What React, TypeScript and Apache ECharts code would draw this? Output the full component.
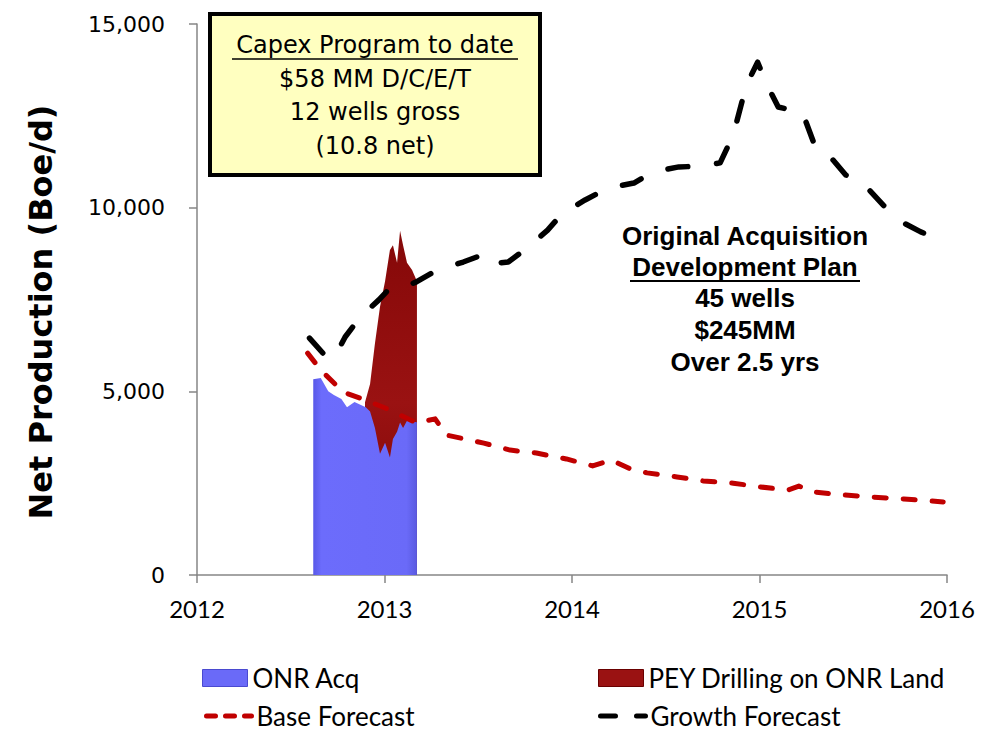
import React, { useEffect, useRef } from "react";
import * as echarts from "echarts";

// ONR Acq (blue area, visible top edge)
const onrYears = [2012.62, 2012.66, 2012.7, 2012.73, 2012.77, 2012.8, 2012.84, 2012.9, 2012.923, 2012.949, 2012.976, 2013.003, 2013.029, 2013.045, 2013.067, 2013.083, 2013.099, 2013.12, 2013.147, 2013.173];
const onrValues = [5330, 5360, 5000, 4900, 4790, 4570, 4710, 4570, 4450, 4000, 3300, 3600, 3200, 3700, 3900, 4150, 4000, 4200, 4180, 4160];

// PEY Drilling on ONR Land (red area, top edge)
const peyYears = [2012.896, 2012.923, 2012.949, 2012.976, 2013.003, 2013.029, 2013.045, 2013.067, 2013.083, 2013.099, 2013.12, 2013.147, 2013.173];
const peyValues = [4700, 5200, 6300, 7300, 8000, 8850, 8980, 8500, 9370, 8980, 8500, 8300, 8000];

// Base Forecast
const baseYears = [2012.59, 2012.66, 2012.78, 2012.9, 2013.03, 2013.17, 2013.27, 2013.33, 2013.53, 2013.67, 2013.81, 2013.97, 2014.11, 2014.21, 2014.31, 2014.4, 2014.56, 2014.7, 2014.86, 2015.0, 2015.15, 2015.21, 2015.29, 2015.45, 2015.61, 2015.77, 2015.98];
const baseValues = [6040, 5580, 4980, 4760, 4490, 4140, 4250, 3810, 3590, 3400, 3320, 3160, 2970, 3130, 2890, 2780, 2670, 2560, 2500, 2400, 2310, 2420, 2260, 2180, 2120, 2070, 1990];

// Growth Forecast
const growthYears = [2012.6, 2012.68, 2012.73, 2012.79, 2012.87, 2012.97, 2013.02, 2013.07, 2013.17, 2013.28, 2013.42, 2013.52, 2013.56, 2013.66, 2013.76, 2013.87, 2013.95, 2014.07, 2014.19, 2014.33, 2014.43, 2014.57, 2014.7, 2014.79, 2014.86, 2014.93, 2014.99, 2015.04, 2015.1, 2015.23, 2015.3, 2015.37, 2015.46, 2015.56, 2015.66, 2015.74, 2015.86, 2015.97];
const growthValues = [6450, 5990, 5900, 6480, 7020, 7490, 7760, 7760, 7980, 8300, 8520, 8710, 8470, 8520, 8900, 9390, 9850, 10210, 10530, 10670, 10970, 11110, 11130, 11220, 11980, 13340, 13960, 13340, 12740, 12580, 11620, 11430, 10890, 10620, 10070, 9660, 9340, 9120];

const boxLines = ["Capex Program to date", "$58 MM D/C/E/T", "12 wells gross", "(10.8 net)"];
const planLines = ["Original Acquisition", "Development Plan", "45 wells", "$245MM", "Over 2.5 yrs"];

const pairs = (xs: number[], ys: number[]) => xs.map((x, i) => [x, ys[i]]);

export default function App() {
  const ref = useRef<HTMLDivElement>(null);
  useEffect(() => {
    if (!ref.current) return;
    const chart = echarts.init(ref.current, null, { renderer: "svg" });
    const axisColor = "#868686";
    const legendText = { fontFamily: "Lato", fontSize: 26, color: "#000" };
    const boxY = [45, 79, 112, 146];
    const planY = [236, 267, 298, 330, 362];
    const centered = { textAlign: "center", textVerticalAlign: "middle", align: "center", verticalAlign: "middle" };
    const graphics: any[] = [
      {
        type: "rect",
        shape: { x: 210, y: 14, width: 330, height: 161 },
        style: { fill: "#ffffc0", stroke: "#000", lineWidth: 4 },
        z: 10,
      },
      ...boxLines.map((t, i) => ({
        type: "text",
        x: 375,
        y: boxY[i],
        z: 11,
        style: { text: t, font: '24px "DejaVu Sans"', fill: "#000", ...centered },
      })),
      { type: "line", z: 11, shape: { x1: 232, y1: 59, x2: 518, y2: 59 }, style: { stroke: "#000", lineWidth: 1.5 } },
      ...planLines.map((t, i) => ({
        type: "text",
        x: 745,
        y: planY[i],
        z: 11,
        style: { text: t, font: 'bold 26px "Liberation Sans"', fill: "#000", ...centered },
      })),
      { type: "line", z: 11, shape: { x1: 630, y1: 281, x2: 860, y2: 281 }, style: { stroke: "#000", lineWidth: 2 } },
      {
        type: "text",
        x: 41,
        y: 312,
        rotation: Math.PI / 2,
        style: { text: "Net Production (Boe/d)", font: 'bold 32px "DejaVu Sans"', fill: "#000", ...centered },
      },
    ];

    const hiddenSymbol = { color: "rgba(0,0,0,0)", borderColor: "rgba(0,0,0,0)", borderWidth: 0, opacity: 0 };

    const option: any = {
      animation: false,
      backgroundColor: "#fff",
      grid: { left: 197, right: 46, top: 24, bottom: 161 },
      xAxis: {
        type: "value",
        min: 2012,
        max: 2016,
        interval: 1,
        axisLine: { show: true, lineStyle: { color: axisColor, width: 1.5 } },
        axisTick: { show: true, length: 8, inside: false, lineStyle: { color: axisColor, width: 1.5 } },
        axisLabel: { fontFamily: "Lato", fontSize: 24, color: "#000", margin: 21, formatter: (v: number) => String(v) },
        splitLine: { show: false },
      },
      yAxis: {
        type: "value",
        min: 0,
        max: 15000,
        interval: 5000,
        axisLine: { show: true, lineStyle: { color: axisColor, width: 1.5 } },
        axisTick: { show: true, length: 8, inside: false, lineStyle: { color: axisColor, width: 1.5 } },
        axisLabel: {
          fontFamily: "DejaVu Sans",
          fontSize: 22,
          color: "#000",
          margin: 32,
          formatter: (v: number) => v.toLocaleString("en-US"),
        },
        splitLine: { show: false },
      },
      legend: [
        {
          data: [{ name: "ONR Acq", icon: "rect", itemStyle: { color: "#6a6af8", borderColor: "#4a4ad0", borderWidth: 1 } }],
          left: 202, top: 665, padding: 0, itemWidth: 45, itemHeight: 17, selectedMode: false, textStyle: legendText,
        },
        {
          data: [{ name: "PEY Drilling on ONR Land", icon: "rect", itemStyle: { color: "#9a1212", borderColor: "#6a0000", borderWidth: 1 } }],
          left: 598, top: 665, padding: 0, itemWidth: 45, itemHeight: 17, selectedMode: false, textStyle: legendText,
        },
        {
          data: [{ name: "Base Forecast", itemStyle: hiddenSymbol, lineStyle: { color: "#c00000", width: 5, type: [9, 10], cap: "round" } }],
          left: 204, top: 703, padding: 0, itemWidth: 45, itemHeight: 17, selectedMode: false, textStyle: legendText,
        },
        {
          data: [{ name: "Growth Forecast", itemStyle: hiddenSymbol, lineStyle: { color: "#000", width: 5, type: [15, 21], cap: "round" } }],
          left: 598, top: 703, padding: 0, itemWidth: 45, itemHeight: 17, selectedMode: false, textStyle: legendText,
        },
      ],
      graphic: graphics,
      series: [
        {
          name: "PEY Drilling on ONR Land",
          type: "line",
          data: pairs(peyYears, peyValues),
          symbol: "none",
          color: "#9a1212",
          lineStyle: { width: 0, color: "#9a1212" },
          areaStyle: {
            opacity: 1,
            color: new echarts.graphic.LinearGradient(0, 0, 0, 1, [
              { offset: 0, color: "#850808" },
              { offset: 0.5, color: "#9a1212" },
              { offset: 1, color: "#760404" },
            ]),
          },
          z: 2,
        },
        {
          name: "ONR Acq",
          type: "line",
          data: pairs(onrYears, onrValues),
          symbol: "none",
          color: "#6a6af8",
          lineStyle: { width: 0, color: "#6a6af8" },
          areaStyle: {
            opacity: 1,
            color: new echarts.graphic.LinearGradient(0, 0, 1, 0, [
              { offset: 0, color: "#5858e8" },
              { offset: 0.08, color: "#6c6cfc" },
              { offset: 0.9, color: "#6a6af8" },
              { offset: 1, color: "#5a5ae0" },
            ]),
          },
          z: 3,
        },
        {
          name: "Base Forecast",
          type: "line",
          data: pairs(baseYears, baseValues),
          symbol: "none",
          color: "#c00000",
          lineStyle: { color: "#c00000", width: 5, type: [12, 17], cap: "round", join: "round" },
          z: 4,
        },
        {
          name: "Growth Forecast",
          type: "line",
          data: pairs(growthYears, growthValues),
          symbol: "none",
          color: "#000",
          lineStyle: { color: "#000", width: 5.5, type: [20, 29], cap: "round", join: "round" },
          z: 5,
        },
      ],
    };
    chart.setOption(option);
    return () => chart.dispose();
  }, []);
  return <div ref={ref} style={{ position: "fixed", left: 0, top: 0, width: 993, height: 736 }} />;
}
